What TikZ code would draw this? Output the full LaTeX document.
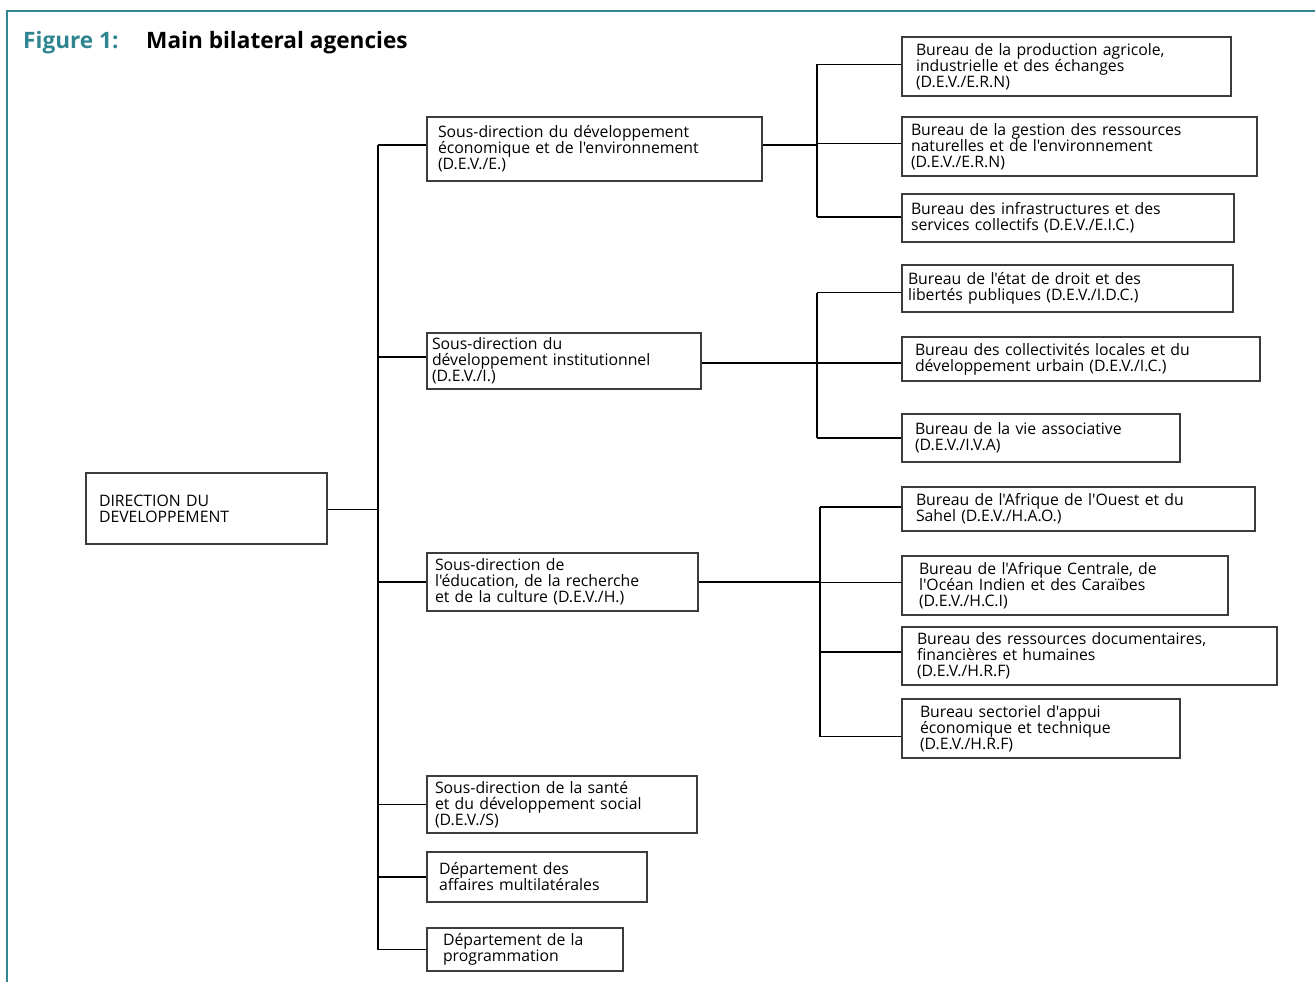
\documentclass[tikz,border=0pt]{standalone}
\usepackage{fontspec}
\setmainfont{Open Sans}[Ligatures=TeXOff]
\definecolor{frameteal}{RGB}{47,133,144}
\definecolor{boxline}{RGB}{60,60,60}
\tikzset{
  orgbox/.style={draw=boxline, line width=1.1pt, align=left, inner ysep=0pt,
    font=\fontsize{15.8}{16}\selectfont},
  link/.style={draw=black, line width=1.2pt},
}
% \bx{name}{x1}{y1}{x2}{y2}{pad}{text}
\newcommand{\bx}[7]{%
  \pgfmathsetmacro{\bxw}{#4-#2}\pgfmathsetmacro{\bxh}{#5-#3}%
  \pgfmathsetmacro{\bxtw}{#4-#2-2*#6}%
  \node[orgbox, inner xsep=#6pt, text width=\bxtw pt, minimum height=\bxh pt]
    (#1) at ({(#2+#4)/2},{(#3+#5)/2}) {#7};}
\begin{document}
\begin{tikzpicture}[x=1pt,y=-1pt]
\useasboundingbox (0,0) rectangle (1315,982);
\draw[frameteal, line width=2.6pt] (7,982) -- (7,11) -- (1316,11);
\node[anchor=base west, inner sep=0pt, font=\bfseries\fontsize{22.6}{24}\selectfont, text=frameteal] (fig) at (23,49) {Figure 1:};
\node[anchor=base west, inner sep=0pt, font=\bfseries\fontsize{22.6}{24}\selectfont] (ttl) at (146,49) {Main bilateral agencies};

\bx{dir}{86}{473}{327}{544}{13}{DIRECTION DU\\DEVELOPPEMENT}
\bx{se}{427}{117}{762}{181}{11}{Sous-direction du développement\\économique et de l'environnement\\(D.E.V./E.)}
\bx{si}{427}{333}{701}{389}{5}{Sous-direction du\\développement institutionnel\\(D.E.V./I.)}
\bx{sh}{427}{553}{698}{611}{8}{Sous-direction de\\l'éducation, de la recherche\\et de la culture (D.E.V./H.)}
\bx{ss}{427}{776}{697}{833}{8}{Sous-direction de la santé\\et du développement social\\(D.E.V./S)}
\bx{dm}{427}{852}{647}{902}{12}{Département des\\affaires multilatérales}
\bx{dp}{427}{928}{623}{971}{16}{Département de la\\programmation}

\bx{b1}{902}{37}{1231}{96}{14}{Bureau de la production agricole,\\industrielle et des échanges\\(D.E.V./E.R.N)}
\bx{b2}{902}{117}{1257}{176}{9}{Bureau de la gestion des ressources\\naturelles et de l'environnement\\(D.E.V./E.R.N)}
\bx{b3}{902}{194}{1234}{242}{9}{Bureau des infrastructures et des\\services collectifs (D.E.V./E.I.C.)}
\bx{b4}{902}{265}{1233}{312}{6}{Bureau de l'état de droit et des\\libertés publiques (D.E.V./I.D.C.)}
\bx{b5}{902}{337}{1260}{381}{13}{Bureau des collectivités locales et du\\développement urbain (D.E.V./I.C.)}
\bx{b6}{902}{414}{1180}{462}{13}{Bureau de la vie associative\\(D.E.V./I.V.A)}
\bx{b7}{902}{487}{1255}{531}{14}{Bureau de l'Afrique de l'Ouest et du\\Sahel (D.E.V./H.A.O.)}
\bx{b8}{902}{556}{1228}{615}{17}{Bureau de l'Afrique Centrale, de\\l'Océan Indien et des Caraïbes\\(D.E.V./H.C.I)}
\bx{b9}{902}{627}{1277}{685}{15}{Bureau des ressources documentaires,\\financières et humaines\\(D.E.V./H.R.F)}
\bx{b10}{902}{699}{1180}{758}{18}{Bureau sectoriel d'appui\\économique et technique\\(D.E.V./H.R.F)}

\coordinate (t) at (378,0);
\coordinate (re) at (817,0);
\coordinate (ri) at (817,0);
\coordinate (rh) at (820,0);

\draw[link] ([yshift=-1pt]dir.east) -- ([yshift=-1pt]dir.east -| t);
\draw[link] ([yshift=4pt]t |- se.west) -- (t |- dp.west);
\foreach \n/\d in {se/4, si/4, sh/0, ss/0, dm/0, dp/0}
  \draw[link] ([yshift=\d pt]t |- \n.west) -- ([yshift=\d pt]\n.west);

\draw[link] ([yshift=4pt]se.east) -- ([yshift=4pt]re |- se.east);
\draw[link] ([yshift=2pt]re |- b1.west) -- ([yshift=1pt]re |- b3.west);
\foreach \n/\d in {b1/2, b2/3, b3/1}
  \draw[link] ([yshift=\d pt]re |- \n.west) -- ([yshift=\d pt]\n.west);

\draw[link] ([yshift=-2pt]si.east) -- ([yshift=-2pt]ri |- si.east);
\draw[link] ([yshift=-4pt]ri |- b4.west) -- ([yshift=0pt]ri |- b6.west);
\foreach \n/\d in {b4/-4, b5/-4, b6/0}
  \draw[link] ([yshift=\d pt]ri |- \n.west) -- ([yshift=\d pt]\n.west);

\draw[link] (sh.east) -- (rh |- sh.east);
\draw[link] ([yshift=2pt]rh |- b7.west) -- ([yshift=-8pt]rh |- b10.west);
\foreach \n/\d in {b7/2, b8/3, b9/4, b10/-8}
  \draw[link] ([yshift=\d pt]rh |- \n.west) -- ([yshift=\d pt]\n.west);
\end{tikzpicture}
\end{document}
